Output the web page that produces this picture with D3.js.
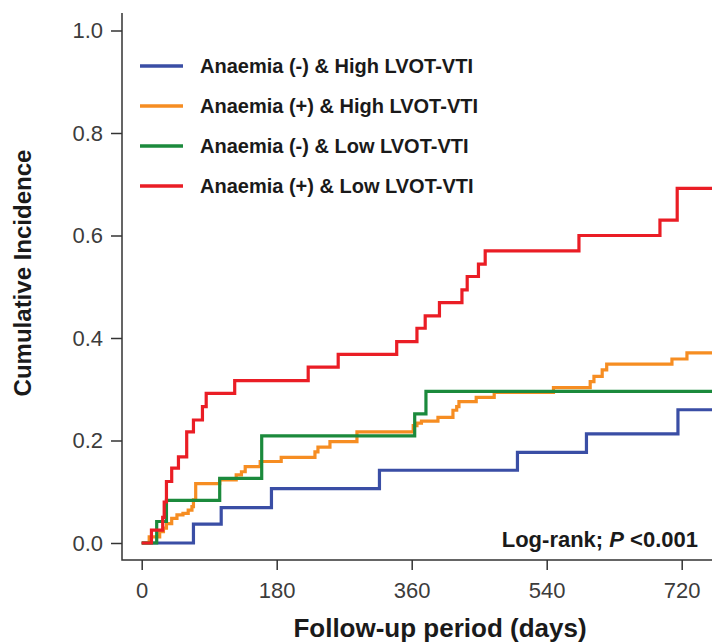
<!DOCTYPE html>
<html>
<head>
<meta charset="utf-8">
<script src="https://cdn.jsdelivr.net/npm/d3@7/dist/d3.min.js"></script>
<style>
  body { margin: 0; background: #fff; }
  svg { display: block; font-family: 'Liberation Sans', Arial, sans-serif; }
</style>
</head>
<body>
<div id="chart"></div>
<script>
var xTicks = [0, 180, 360, 540, 720]
var yTicks = [0, 0.2, 0.4, 0.6, 0.8, 1.0]

var groups = [
  'Anaemia (-) & High LVOT-VTI',
  'Anaemia (+) & High LVOT-VTI',
  'Anaemia (-) & Low LVOT-VTI',
  'Anaemia (+) & Low LVOT-VTI'
]
var colors = ['#3a4ea5', '#f68d22', '#1b8a3c', '#ea1d25']

// step times (days) and cumulative incidence after each step
var blueDays = [0, 69, 106, 173, 317, 501, 593, 715]
var blueInc = [0, 0.037, 0.069, 0.106, 0.142, 0.177, 0.213, 0.26]

var orangeDays = [0, 10, 24, 29, 33, 40, 47, 55, 62, 67, 69, 72,
  104, 126, 133, 138, 158, 186, 231, 235, 251, 287,
  362, 367, 373, 395, 415, 420, 423, 446, 470,
  549, 598, 603, 614, 620, 707, 727]
var orangeInc = [0, 0.012, 0.022, 0.029, 0.038, 0.048, 0.055, 0.058, 0.064, 0.071, 0.084, 0.116,
  0.123, 0.133, 0.139, 0.149, 0.159, 0.167, 0.178, 0.187, 0.198, 0.217,
  0.229, 0.234, 0.238, 0.245, 0.259, 0.266, 0.276, 0.284, 0.294,
  0.303, 0.315, 0.325, 0.338, 0.349, 0.359, 0.371]

var greenDays = [0, 20, 33, 104, 160, 364, 379]
var greenInc = [0, 0.042, 0.083, 0.126, 0.209, 0.252, 0.296]

var redDays = [0, 13, 28, 30, 33, 40, 49, 60, 69, 81, 86, 124, 222, 262,
  340, 367, 378, 397, 427, 434, 449, 458, 583, 691, 714]
var redInc = [0, 0.025, 0.05, 0.08, 0.12, 0.146, 0.168, 0.217, 0.24, 0.266, 0.292, 0.317, 0.343, 0.368,
  0.393, 0.419, 0.443, 0.469, 0.494, 0.52, 0.544, 0.57, 0.60, 0.63, 0.692]

var series = [[blueDays, blueInc], [orangeDays, orangeInc], [greenDays, greenInc], [redDays, redInc]]

var width = 712
var height = 642
var xMax = 790

var x = d3.scaleLinear().domain([0, 720]).range([141.7, 681.7])
var y = d3.scaleLinear().domain([0, 1]).range([543, 30.5])

var axisLeftX = 122
var axisBottomY = 560

var svg = d3.select('#chart').append('svg')
  .attr('width', width)
  .attr('height', height)

// curves
var line = d3.line()
  .curve(d3.curveStepAfter)
  .x(function (d) { return x(d[0]) })
  .y(function (d) { return y(d[1]) })

series.forEach(function (s, i) {
  var pts = s[0].map(function (t, j) { return [t, s[1][j]] })
  pts.push([xMax, s[1][s[1].length - 1]])
  svg.append('path')
    .datum(pts)
    .attr('d', line)
    .attr('fill', 'none')
    .attr('stroke', colors[i])
    .attr('stroke-width', 3.2)
})

// axes
var yAxis = svg.append('g')
  .attr('transform', 'translate(' + axisLeftX + ',0)')
  .call(d3.axisLeft(y).tickValues(yTicks).tickFormat(d3.format('.1f')).tickSize(11).tickPadding(8).tickSizeOuter(0))
yAxis.select('.domain').remove()

var xAxis = svg.append('g')
  .attr('transform', 'translate(0,' + axisBottomY + ')')
  .call(d3.axisBottom(x).tickValues(xTicks).tickSize(10).tickPadding(12).tickSizeOuter(0))
xAxis.select('.domain').remove()

svg.selectAll('.tick line').attr('stroke', '#333').attr('stroke-width', 1.5)
svg.selectAll('.tick text')
  .attr('fill', '#3c3c3c')
  .style('font-size', '22px')
  .style('font-family', "'Liberation Sans', Arial, sans-serif")

svg.append('path')
  .attr('d', 'M' + axisLeftX + ',13V' + axisBottomY + 'H' + (width + 5))
  .attr('fill', 'none')
  .attr('stroke', '#333')
  .attr('stroke-width', 1.5)

// axis titles
svg.append('text')
  .attr('transform', 'translate(31,273) rotate(-90)')
  .attr('text-anchor', 'middle')
  .attr('fill', '#1a1a1a')
  .style('font-size', '24px')
  .style('font-weight', 'bold')
  .text('Cumulative Incidence')

svg.append('text')
  .attr('x', 440)
  .attr('y', 637)
  .attr('text-anchor', 'middle')
  .attr('fill', '#1a1a1a')
  .style('font-size', '26px')
  .style('font-weight', 'bold')
  .text('Follow-up period (days)')

// legend
var legend = svg.append('g')
groups.forEach(function (g, i) {
  var ly = 66 + i * 40
  legend.append('line')
    .attr('x1', 140).attr('x2', 183)
    .attr('y1', ly).attr('y2', ly)
    .attr('stroke', colors[i])
    .attr('stroke-width', 3.5)
  legend.append('text')
    .attr('x', 200)
    .attr('y', ly + 7)
    .attr('fill', '#1a1a1a')
    .style('font-size', '20px')
    .style('font-weight', 'bold')
    .text(g)
})

// log-rank annotation
var note = svg.append('text')
  .attr('x', 698)
  .attr('y', 547)
  .attr('text-anchor', 'end')
  .attr('fill', '#1a1a1a')
  .style('font-size', '22px')
  .style('font-weight', 'bold')
note.append('tspan').text('Log-rank; ')
note.append('tspan').style('font-style', 'italic').text('P')
note.append('tspan').text(' <0.001')
</script>
</body>
</html>
